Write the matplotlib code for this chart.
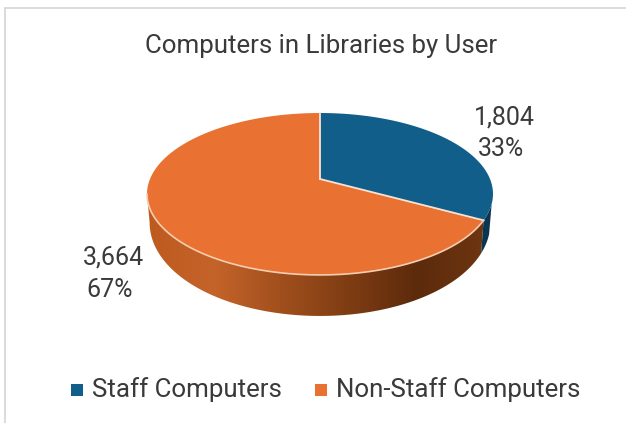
import numpy as np
import matplotlib
matplotlib.use("Agg")
from matplotlib import pyplot as plt
from matplotlib.patches import Polygon, Rectangle
from matplotlib.colors import LinearSegmentedColormap

title = "Computers in Libraries by User"
categories = ["Staff Computers", "Non-Staff Computers"]
values = [1804, 3664]
percent_labels = ["33%", "67%"]
top_colors = ["#125E8A", "#E97132"]
side_colors = ["#0B3550", None]

plt.rcParams["font.family"] = ["Roboto", "Liberation Sans", "DejaVu Sans"]
text_color = "#3a3a3a"

# pie geometry in pixels, with a bit of perspective
cx, cy = 320, 179
rx, ry = 170, 78.2
persp = 0.185


def rim(theta):
    # theta is clockwise from the top of the pie, radians
    u, v = np.sin(theta), np.cos(theta)
    return cx + rx * u / (1 + persp * v), cy - ry * v / (1 + persp * v)


def rim_low(theta):
    # lower edge of the side wall, deeper towards the viewer
    x, y = rim(theta)
    return cx + (x - cx) * 0.985, y + 25.6 - 15.4 * np.cos(theta)


fracs = np.array(values) / sum(values)
edges = np.concatenate([[0], np.cumsum(fracs)]) * 2 * np.pi
theta_vis = np.arccos(-persp)  # rim turns away from the viewer here

fig = plt.figure(figsize=(6.26, 4.23), dpi=100)
ax = fig.add_axes([0, 0, 1, 1])
ax.set_xlim(0, 626)
ax.set_ylim(423, 0)
ax.axis("off")

# chart frame
ax.add_patch(Rectangle((5, 8), 640, 440, fc="white", ec="#d4d4d4", lw=1.2))

# side of the orange slice
t = np.linspace(edges[1], 2 * np.pi - theta_vis, 200)
xs, ys = rim(t)
xl, yl = rim_low(t)
side_xy = np.vstack([np.c_[xs, ys], np.c_[xl[::-1], yl[::-1]]])
side_cmap = LinearSegmentedColormap.from_list(
    "side", ["#BE5A20", "#C4632A", "#A04F1C", "#7E3C13", "#5C2B0C", "#6E3510"])
img = ax.imshow(np.linspace(0, 1, 256)[None, :], cmap=side_cmap, aspect="auto",
                extent=[147, 485, 330, 180], zorder=2)
clip = Polygon(side_xy, closed=True, transform=ax.transData, fc="none", ec="none")
ax.add_patch(clip)
img.set_clip_path(clip)
ax.set_xlim(0, 626)
ax.set_ylim(423, 0)

# side of the blue slice, only a sliver shows
t = np.linspace(theta_vis + 0.12, edges[1], 40)
xs, ys = rim(t)
xl, yl = rim_low(t)
ax.add_patch(Polygon(np.vstack([np.c_[xs, ys], np.c_[xl[::-1], yl[::-1]]]),
                     closed=True, fc=side_colors[0], ec="none", zorder=2))

# top faces
for i in range(2):
    t = np.linspace(edges[i], edges[i + 1], 300)
    xs, ys = rim(t)
    pts = np.vstack([[cx, cy], np.c_[xs, ys]])
    ax.add_patch(Polygon(pts, closed=True, fc=top_colors[i], ec="none", zorder=3))

# pale highlights: slice borders and the front rim
for e in edges[:2]:
    x, y = rim(e)
    ax.plot([cx, x], [cy, y], color="#F6E3D6", lw=1.3, zorder=4)
t = np.linspace(edges[1], 2 * np.pi - theta_vis, 200)
xs, ys = rim(t)
ax.plot(xs, ys, color="#F6CDB0", lw=1.2, zorder=4)

# data labels
ax.text(504, 117, f"{values[0]:,}", ha="center", va="center", fontsize=18, color=text_color)
ax.text(501, 149, percent_labels[0], ha="center", va="center", fontsize=18, color=text_color)
ax.text(114, 258, f"{values[1]:,}", ha="center", va="center", fontsize=18, color=text_color)
ax.text(110, 290, percent_labels[1], ha="center", va="center", fontsize=18, color=text_color)

ax.text(321, 46, title, ha="center", va="center", fontsize=18.6, color=text_color)

# legend, placed by hand like the original
ax.add_patch(Rectangle((71, 384), 12, 12, fc=top_colors[0], ec="none"))
ax.text(92, 390, categories[0], ha="left", va="center", fontsize=18.6, color=text_color)
ax.add_patch(Rectangle((315, 384), 12, 12, fc=top_colors[1], ec="none"))
ax.text(336, 390, categories[1], ha="left", va="center", fontsize=18.6, color=text_color)

fig.savefig("out.png", dpi=100)
